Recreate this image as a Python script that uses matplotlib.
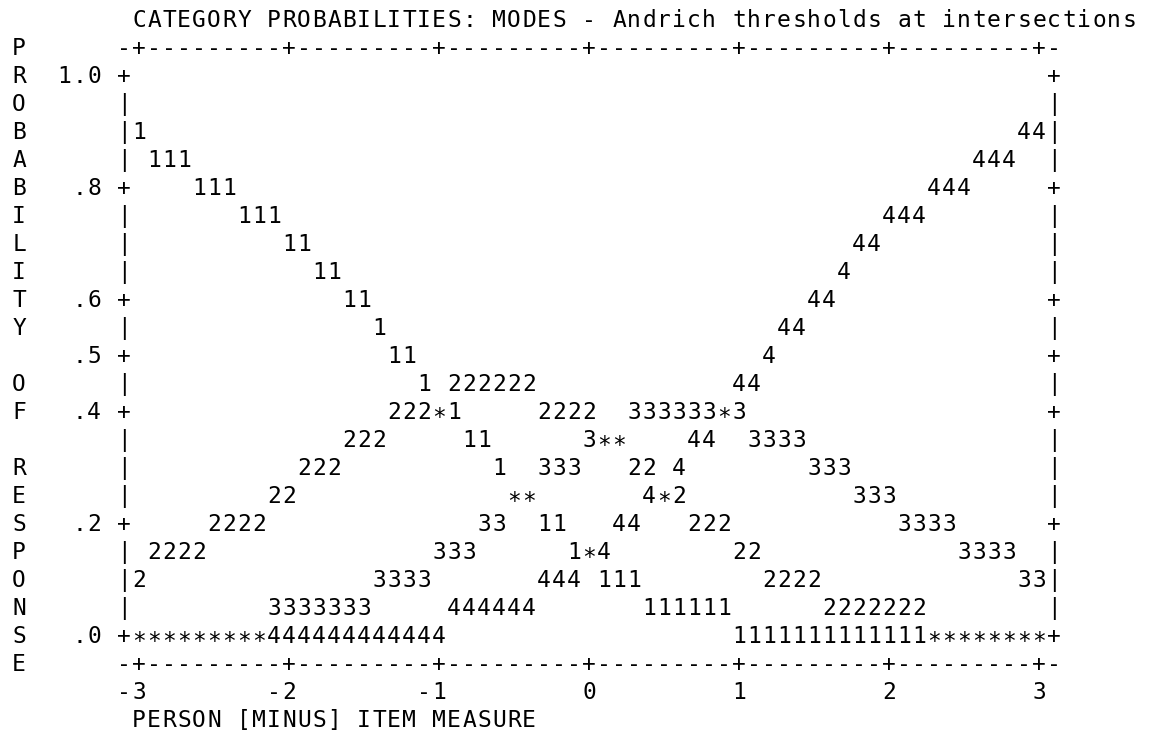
import numpy as np
import matplotlib
matplotlib.use("Agg")
import matplotlib.pyplot as plt
from matplotlib import transforms

# ---------------------------------------------------------------------------
# Data: category probability curves on a 0.1-logit plotting grid
# ---------------------------------------------------------------------------
measure = np.round(np.arange(-30, 31) / 10, 1)   # person minus item measure

categories = ["1", "2", "3", "4"]

prob_cat1 = [0.90,
             0.85, 0.85, 0.85, 0.80, 0.80, 0.80, 0.75, 0.75, 0.75,
             0.70, 0.70, 0.65, 0.65, 0.60, 0.60, 0.55, 0.50, 0.50, 0.45,
             0.40, 0.40, 0.35, 0.35, 0.30, 0.25, 0.25, 0.20, 0.20, 0.15,
             0.15, 0.10, 0.10, 0.10, 0.05, 0.05, 0.05, 0.05, 0.05, 0.05,
             0.00, 0.00, 0.00, 0.00, 0.00, 0.00, 0.00, 0.00, 0.00, 0.00,
             0.00, 0.00, 0.00, 0.00, 0.00, 0.00, 0.00, 0.00, 0.00, 0.00,
             0.00]

prob_cat2 = [0.10,
             0.15, 0.15, 0.15, 0.15, 0.20, 0.20, 0.20, 0.20, 0.25, 0.25,
             0.30, 0.30, 0.30, 0.35, 0.35, 0.35, 0.40, 0.40, 0.40, 0.40,
             0.45, 0.45, 0.45, 0.45, 0.45, 0.45, 0.40, 0.40, 0.40, 0.40,
             0.35, 0.35, 0.30, 0.30, 0.25, 0.25, 0.20, 0.20, 0.20, 0.15,
             0.15, 0.10, 0.10, 0.10, 0.10, 0.05, 0.05, 0.05, 0.05, 0.05,
             0.05, 0.05, 0.00, 0.00, 0.00, 0.00, 0.00, 0.00, 0.00, 0.00]

prob_cat3 = [0.00, 0.00, 0.00, 0.00, 0.00, 0.00, 0.00, 0.00, 0.00,
             0.05, 0.05, 0.05, 0.05, 0.05, 0.05, 0.05,
             0.10, 0.10, 0.10, 0.10, 0.15, 0.15, 0.15, 0.20, 0.20,
             0.25, 0.25, 0.30, 0.30, 0.30, 0.35, 0.35, 0.35,
             0.40, 0.40, 0.40, 0.40, 0.40, 0.40, 0.40, 0.40,
             0.35, 0.35, 0.35, 0.35, 0.30, 0.30, 0.30, 0.25, 0.25, 0.25,
             0.20, 0.20, 0.20, 0.20, 0.15, 0.15, 0.15, 0.15, 0.10, 0.10]

prob_cat4 = [0.00, 0.00, 0.00, 0.00, 0.00, 0.00, 0.00, 0.00, 0.00, 0.00,
             0.00, 0.00, 0.00, 0.00, 0.00, 0.00, 0.00, 0.00, 0.00, 0.00,
             0.00, 0.05, 0.05, 0.05, 0.05, 0.05, 0.05, 0.10, 0.10, 0.10,
             0.15, 0.15, 0.20, 0.20, 0.25, 0.25, 0.30, 0.35, 0.35, 0.40,
             0.45, 0.45, 0.50, 0.55, 0.55, 0.60, 0.60, 0.65, 0.70, 0.70,
             0.75, 0.75, 0.75, 0.80, 0.80, 0.80, 0.85, 0.85, 0.85, 0.90,
             0.90]

y_ticks = [1.0, 0.8, 0.6, 0.5, 0.4, 0.2, 0.0]
y_tick_labels = ["1.0", ".8", ".6", ".5", ".4", ".2", ".0"]
x_ticks = [-3, -2, -1, 0, 1, 2, 3]
x_tick_labels = ["-3", "-2", "-1", "0", "1", "2", "3"]

title = "CATEGORY PROBABILITIES: MODES - Andrich thresholds at intersections"
x_label = "PERSON [MINUS] ITEM MEASURE"
y_label = "PROBABILITY OF RESPONSE"

# ---------------------------------------------------------------------------
# Character-cell plot
# ---------------------------------------------------------------------------
DX = 0.1      # one character column in measure units
DP = 0.05     # one text row in probability units
W, H, DPI = 1149, 734, 100

fig = plt.figure(figsize=(W / DPI, H / DPI), dpi=DPI)
ax = fig.add_axes([0, 0, 1, 1])
ax.set_axis_off()
# 150 px per logit, 560 px per unit of probability
ax.set_xlim(-589 / 150, (W - 589) / 150)
ax.set_ylim((635 - H) / 560, 635 / 560)

FONT = dict(family="DejaVu Sans Mono", fontsize=16.5, color="black",
            ha="center", va="baseline")
# drop the baseline so that digits and capitals sit centred on each row;
# the asterisk glyph is raised in this font, so it gets a further drop
cell = transforms.offset_copy(ax.transData, fig=fig, x=0, y=-8.3, units="dots")
star_cell = transforms.offset_copy(ax.transData, fig=fig, x=0, y=-13.5,
                                   units="dots")


def glyph(m, p, ch):
    tr = star_cell if ch == "*" else cell
    ax.text(m, p, ch, transform=tr, **FONT)


def put(m, p, text):
    """Write text one character per column, first character at (m, p)."""
    for i, ch in enumerate(text):
        if ch != " ":
            glyph(m + i * DX, p, ch)


x_lo, x_hi = measure[0], measure[-1]
frame_l, frame_r = x_lo - DX, x_hi + DX
p_top, p_bot = max(y_ticks) + DP, min(y_ticks) - DP

# curve characters; cells shared by two categories print as '*'
cells = {}
for name, probs in zip(categories, [prob_cat1, prob_cat2, prob_cat3, prob_cat4]):
    for m, p in zip(measure, probs):
        key = (int(round(m * 10)), int(round(p * 20)))
        cells.setdefault(key, []).append(name)
for (mi, pi), names in cells.items():
    glyph(mi / 10, pi / 20, names[0] if len(names) == 1 else "*")

# left and right frame with probability tick marks
n_rows = int(round((max(y_ticks) - min(y_ticks)) / DP)) + 1
for k in range(n_rows):
    p = round(max(y_ticks) - k * DP, 2)
    mark = "+" if any(abs(p - t) < 1e-9 for t in y_ticks) else "|"
    put(frame_l, p, mark)
    put(frame_r, p, mark)

# top and bottom rules with measure tick marks
n_cols = int(round((frame_r - frame_l) / DX)) + 1
for j in range(n_cols):
    m = round(frame_l + j * DX, 2)
    mark = "+" if any(abs(m - t) < 1e-9 for t in x_ticks) else "-"
    put(m, p_top, mark)
    put(m, p_bot, mark)

# probability labels, right-aligned two columns left of the frame
for t, lab in zip(y_ticks, y_tick_labels):
    put(frame_l - 2 * DX - (len(lab) - 1) * DX, t, lab)

# measure labels, right-aligned on their tick column
for t, lab in zip(x_ticks, x_tick_labels):
    put(t - (len(lab) - 1) * DX, p_bot - DP, lab)

# vertical axis title, one letter per row starting at the top rule
for k, ch in enumerate(y_label):
    put(frame_l - 7 * DX, p_top - k * DP, ch)

put(x_lo, p_top + DP, title)
put(x_lo, p_bot - 2 * DP, x_label)

fig.savefig("out.png", dpi=DPI, facecolor="white")
